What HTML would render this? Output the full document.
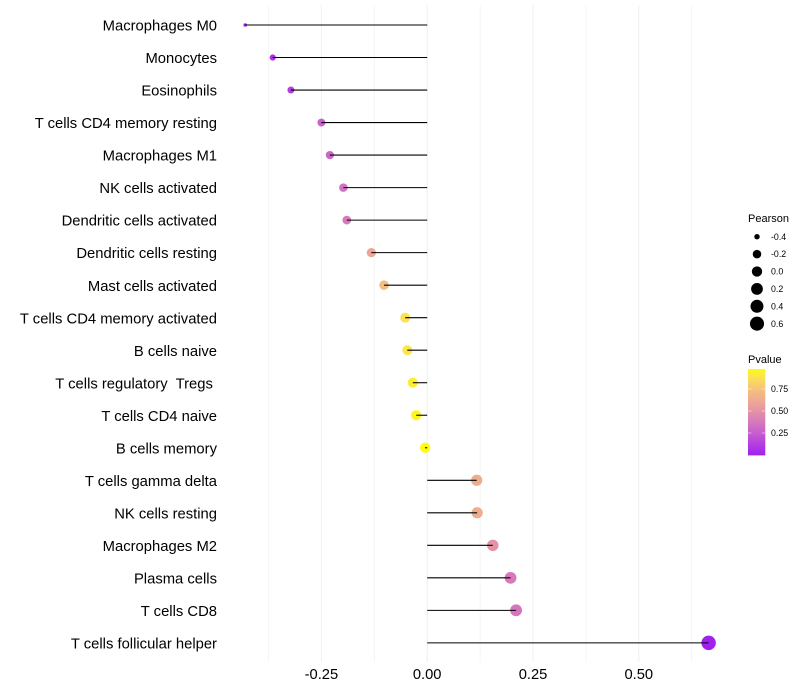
<!DOCTYPE html>
<html lang="en">
<head>
<meta charset="utf-8">
<title>Immune cell correlation lollipop chart</title>
<style>
html,body{margin:0;padding:0;background:#fff;}
svg{display:block;font-family:"Liberation Sans",sans-serif;}
</style>
</head>
<body>
<svg id="chart" width="800" height="700" viewBox="0 0 800 700" xmlns="http://www.w3.org/2000/svg">
  <defs>
    <linearGradient id="pvalue-gradient" x1="0" y1="1" x2="0" y2="0"></linearGradient>
  </defs>
  <rect x="0" y="0" width="800" height="700" fill="#ffffff"/>
  <g id="grid"></g>
  <g id="points"></g>
  <g id="stems"></g>
  <g id="ylabels"></g>
  <g id="xlabels"></g>
  <g id="size-legend">
    <text x="748" y="222" font-size="11" fill="#000">Pearson</text>
  </g>
  <g id="color-legend">
    <text x="748" y="363" font-size="11" fill="#000">Pvalue</text>
  </g>
</svg>
<script>
const categories = ["Macrophages M0","Monocytes","Eosinophils","T cells CD4 memory resting","Macrophages M1","NK cells activated","Dendritic cells activated","Dendritic cells resting","Mast cells activated","T cells CD4 memory activated","B cells naive","T cells regulatory  Tregs ","T cells CD4 naive","B cells memory","T cells gamma delta","NK cells resting","Macrophages M2","Plasma cells","T cells CD8","T cells follicular helper"];
const pearson = [-0.43,-0.365,-0.322,-0.25,-0.23,-0.198,-0.19,-0.132,-0.102,-0.052,-0.047,-0.034,-0.026,-0.005,0.117,0.118,0.155,0.197,0.21,0.665];
const pvalues = [0.01,0.07,0.12,0.27,0.3,0.35,0.38,0.6,0.72,0.88,0.9,0.93,0.96,0.99,0.64,0.64,0.5,0.38,0.36,0.0];
const xTicks = [-0.25,0,0.25,0.5];
const xTickLabels = ["-0.25","0.00","0.25","0.50"];
const xMinorTicks = [-0.375,-0.125,0.125,0.375,0.625];
const sizeLegendValues = [-0.4,-0.2,0,0.2,0.4,0.6];
const sizeLegendLabels = ["-0.4","-0.2","0.0","0.2","0.4","0.6"];
const colorLegendTicks = [0.25,0.5,0.75];
const colorLegendLabels = ["0.25","0.50","0.75"];

const NS = "http://www.w3.org/2000/svg";
const xScale = v => 427.2 + v * 423.2;
const yScale = i => 25 + i * 32.52;
const sizeScale = v => 1.8 + 5.4 * Math.sqrt(Math.max(0, v + 0.43) / 1.095);
const colorBarY = p => 455 - p * 88;

function colorScale(p) {
  const ramp = [[160,32,240],[180,62,226],[198,92,208],[214,120,188],[228,146,166],[238,170,146],[245,194,124],[251,224,88],[255,255,0]];
  const t = Math.min(0.9999, Math.max(0, p)) * 8;
  const k = Math.floor(t);
  const f = t - k;
  const c = [0,1,2].map(n => Math.round(ramp[k][n] + (ramp[k+1][n] - ramp[k][n]) * f));
  return "rgb(" + c.join(",") + ")";
}
function make(tag, parent, attrs) {
  const el = document.createElementNS(NS, tag);
  for (const k in attrs) el.setAttribute(k, attrs[k]);
  parent.appendChild(el);
  return el;
}

const grid = document.getElementById("grid");
const points = document.getElementById("points");
const stems = document.getElementById("stems");
const ylabels = document.getElementById("ylabels");
const xlabels = document.getElementById("xlabels");
const sizeLegend = document.getElementById("size-legend");
const colorLegend = document.getElementById("color-legend");
const gradient = document.getElementById("pvalue-gradient");

xMinorTicks.forEach(v => {
  const line = make("line", grid, {x1:xScale(v),x2:xScale(v),y1:5,y2:662,stroke:"#f3f3f3","stroke-width":0.8});
  
  
});
xTicks.forEach((v, i) => {
  const line = make("line", grid, {x1:xScale(v),x2:xScale(v),y1:5,y2:662,stroke:"#f0f0f0","stroke-width":1});
  
  
  const label = make("text", xlabels, {x:xScale(v),y:679,"text-anchor":"middle","font-size":14.7,fill:"#000"});
  label.textContent = xTickLabels[i];
  
  
});

categories.forEach((name, i) => {
  const y = yScale(i);
  const label = make("text", ylabels, {x:217,y:y+5.6,"text-anchor":"end","font-size":14.8,fill:"#000"});
  label.setAttribute("xml:space", "preserve");
  label.style.whiteSpace = "pre";
  label.textContent = name;
  
  

  const dot = make("circle", points, {cx:xScale(pearson[i]),cy:y,r:sizeScale(pearson[i]),fill:colorScale(pvalues[i])});
  
  

  const stem = make("line", stems, {x1:xScale(0),x2:xScale(pearson[i]),y1:y,y2:y,stroke:"#000","stroke-width":1.07});
  
  
});

sizeLegendValues.forEach((v, i) => {
  const y = 236.7 + i * 17.4;
  const dot = make("circle", sizeLegend, {cx:757,cy:y,r:sizeScale(v),fill:"#000"});
  
  
  const label = make("text", sizeLegend, {x:771,y:y+3.1,"font-size":8.8,fill:"#000"});
  label.textContent = sizeLegendLabels[i];
  
  
});

for (let s = 0; s <= 32; s++) {
  const stop = make("stop", gradient, {offset:(s / 32 * 100) + "%","stop-color":colorScale(s / 32 * 0.98)});
  
  
}
const bar = make("rect", colorLegend, {x:748,y:369,width:17.3,height:86.4,fill:"url(#pvalue-gradient)"});


colorLegendTicks.forEach((p, i) => {
  const y = colorBarY(p);
  const left = make("line", colorLegend, {x1:748,x2:751.5,y1:y,y2:y,stroke:"#fff","stroke-opacity":0.5,"stroke-width":1});
  
  
  const right = make("line", colorLegend, {x1:761.8,x2:765.3,y1:y,y2:y,stroke:"#fff","stroke-opacity":0.5,"stroke-width":1});
  
  
  const label = make("text", colorLegend, {x:771,y:y+3.1,"font-size":8.8,fill:"#000"});
  label.textContent = colorLegendLabels[i];
  
  
});
</script>
</body>
</html>
